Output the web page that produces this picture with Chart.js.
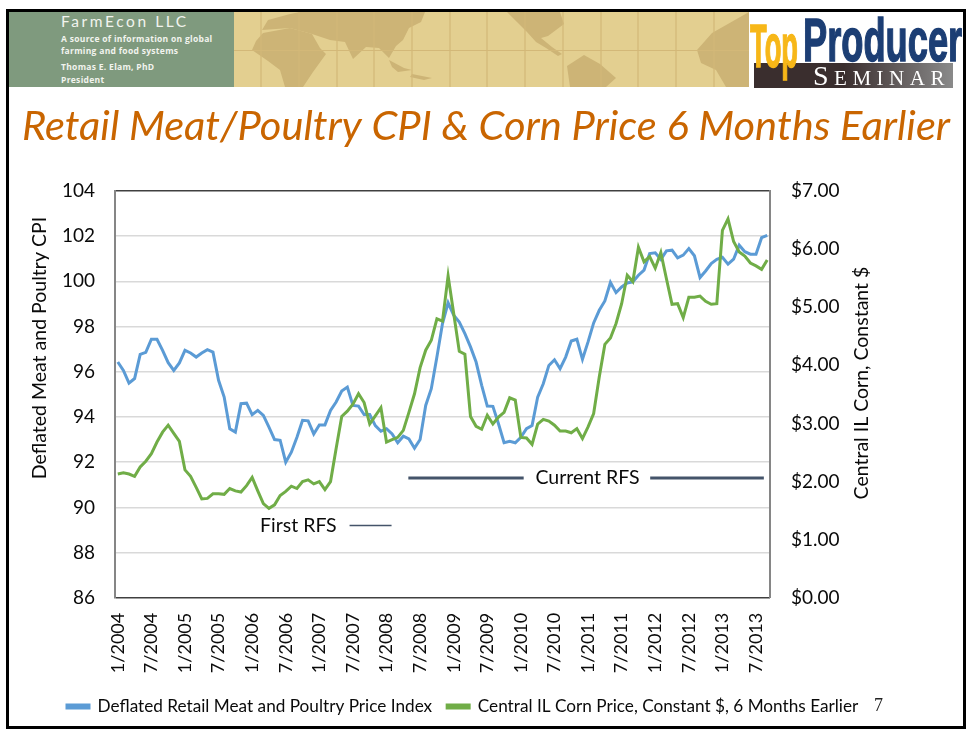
<!DOCTYPE html>
<html>
<head>
<meta charset="utf-8">
<title>Retail Meat/Poultry CPI & Corn Price</title>
<script src="https://cdn.jsdelivr.net/npm/chart.js@4"></script>
<style>
  html, body { margin: 0; padding: 0; background: #fff; }
  #page { position: relative; width: 968px; height: 734px; overflow: hidden; }
  #chart { position: absolute; left: 0; top: 0; }
  #frame { position: absolute; left: 6px; top: 9px; width: 954px; height: 714px; border: 3px solid #000; pointer-events: none; }
  #banner { position: absolute; left: 9px; top: 12px; width: 954px; height: 78px; overflow: hidden; }
  #firm { position: absolute; left: 0; top: 0; width: 225px; height: 75px; background: #7F9A7E; color: #F2F4EE; }
  #firm div { position: absolute; left: 52px; white-space: nowrap; font: bold 8.5px "Open Sans", sans-serif; letter-spacing: .3px; }
  #firm .name { top: 0; font: 15.5px Lato, sans-serif; letter-spacing: 2.6px; }
  #map { position: absolute; left: 225px; top: 0; }
  #logo { position: absolute; left: 740px; top: 0; width: 215px; height: 78px; background: #fff; }
  #logo span { position: absolute; z-index: 2; font-family: "Liberation Sans", sans-serif; font-weight: bold; transform-origin: 0 0; white-space: nowrap; -webkit-text-stroke: 1.5px currentColor; }
  #bar { position: absolute; left: 5px; top: 51px; width: 199px; height: 25px; background: linear-gradient(90deg, #3A2E2E 0%, #3A2E2E 45%, #8A8A8A 100%); }
  #bar b { position: absolute; left: 59px; top: 0; font: 21px "Liberation Serif", serif; color: #fff; letter-spacing: 5.5px; line-height: 25px; white-space: nowrap; }
  #bar b i { font-style: normal; font-size: 28px; }
  #pageno { position: absolute; left: 874px; top: 695px; font: 18px "Liberation Serif", serif; color: #222; }
</style>
</head>
<body>
<div id="page">
  <canvas id="chart" width="968" height="734"></canvas>
  <div id="banner">
    <div id="firm">
      <div class="name">FarmEcon LLC</div>
      <div style="top:21px">A source of information on global</div>
      <div style="top:33px">farming and food systems</div>
      <div style="top:49px">Thomas E. Elam, PhD</div>
      <div style="top:62px">President</div>
    </div>
    <svg id="map" width="515" height="75" viewBox="234 12 515 75">
      <rect x="234" y="12" width="515" height="75" fill="#E3CF90"/>
      <g fill="#CDB476">
        <path d="M252 50 256 41 263 33 290 28 312 34 320 48 326 54 313 72 303 87 285 87 280 70 268 61Z"/>
        <path d="M262 30 268 20 290 14 300 12 425 12 421 22 409 28 403 40 396 46 389 58 379 48 366 47 353 59 345 42 330 40 312 34 290 28Z"/>
        <path d="M389 60 404 68 412 70 398 72 392 67Z"/>
        <path d="M412 74 432 78 424 80 410 77Z"/>
        <path d="M507 12 560 12 564 24 548 36 541 38 552 47 562 54 558 56 546 48 536 42 527 32 517 22Z"/>
        <path d="M567 66 584 55 600 64 616 78 606 87 570 87Z"/>
        <path d="M697 50 712 33 749 12 749 87 726 87 716 70 701 63Z"/>
      </g>
      <g stroke="#D3B878" stroke-width="1.2">
        <path d="M261 12V87M299 12V87M337 12V87M374 12V87M412 12V87M450 12V87M487 12V87M525 12V87M563 12V87M601 12V87M638 12V87M676 12V87M714 12V87M234 50.5H749"/>
      </g>
    </svg>
    <div id="logo">
      <span style="left:1px;top:-2px;font-size:62px;color:#F7B718;transform:scaleX(.44)">Top</span>
      <span style="left:54px;top:-8px;font-size:62px;color:#1C3E74;transform:scaleX(.585)">Producer</span>
      <div id="bar"><b><i>S</i>EMINAR</b></div>
    </div>
  </div>
  <div id="frame"></div>
  <div id="pageno">7</div>
</div>
<script>
'use strict';

const months = [
  '1/2004','2/2004','3/2004','4/2004','5/2004','6/2004','7/2004','8/2004','9/2004','10/2004','11/2004','12/2004',
  '1/2005','2/2005','3/2005','4/2005','5/2005','6/2005','7/2005','8/2005','9/2005','10/2005','11/2005','12/2005',
  '1/2006','2/2006','3/2006','4/2006','5/2006','6/2006','7/2006','8/2006','9/2006','10/2006','11/2006','12/2006',
  '1/2007','2/2007','3/2007','4/2007','5/2007','6/2007','7/2007','8/2007','9/2007','10/2007','11/2007','12/2007',
  '1/2008','2/2008','3/2008','4/2008','5/2008','6/2008','7/2008','8/2008','9/2008','10/2008','11/2008','12/2008',
  '1/2009','2/2009','3/2009','4/2009','5/2009','6/2009','7/2009','8/2009','9/2009','10/2009','11/2009','12/2009',
  '1/2010','2/2010','3/2010','4/2010','5/2010','6/2010','7/2010','8/2010','9/2010','10/2010','11/2010','12/2010',
  '1/2011','2/2011','3/2011','4/2011','5/2011','6/2011','7/2011','8/2011','9/2011','10/2011','11/2011','12/2011',
  '1/2012','2/2012','3/2012','4/2012','5/2012','6/2012','7/2012','8/2012','9/2012','10/2012','11/2012','12/2012',
  '1/2013','2/2013','3/2013','4/2013','5/2013','6/2013','7/2013','8/2013','9/2013'
];

const meatIndex = [
  96.43,96.06,95.50,95.70,96.77,96.86,97.44,97.44,96.95,96.40,96.06,96.39,
  96.95,96.83,96.65,96.83,96.98,96.87,95.62,94.88,93.48,93.33,94.59,94.61,
  94.10,94.29,94.07,93.55,93.00,92.97,92.00,92.44,93.10,93.85,93.83,93.25,
  93.65,93.65,94.29,94.66,95.15,95.32,94.51,94.48,94.11,94.11,93.62,93.37,
  93.48,93.25,92.86,93.15,93.03,92.62,93.00,94.51,95.25,96.65,98.13,99.05,
  98.50,98.20,97.69,97.10,96.43,95.40,94.48,94.47,93.70,92.86,92.92,92.86,
  93.10,93.48,93.62,94.88,95.47,96.28,96.53,96.14,96.65,97.36,97.44,96.55,
  97.32,98.16,98.72,99.13,99.95,99.50,99.75,99.93,99.98,100.27,100.50,101.23,
  101.26,100.97,101.35,101.38,101.04,101.16,101.45,101.13,100.17,100.46,100.79,100.97,
  101.06,100.76,100.98,101.60,101.31,101.20,101.20,101.93,102.03
];

const cornPrice = [
  2.13,2.15,2.13,2.09,2.25,2.35,2.48,2.68,2.85,2.97,2.83,2.69,
  2.20,2.09,1.90,1.70,1.71,1.79,1.79,1.78,1.88,1.84,1.82,1.93,
  2.07,1.84,1.62,1.54,1.60,1.76,1.83,1.92,1.88,2.00,2.03,1.96,
  2.00,1.86,2.00,2.57,3.12,3.21,3.33,3.51,3.36,2.99,3.13,3.27,
  2.68,2.72,2.76,2.88,3.19,3.51,3.96,4.26,4.43,4.80,4.76,5.54,
  4.89,4.24,4.19,3.12,2.95,2.90,3.14,2.99,3.11,3.19,3.44,3.40,
  2.76,2.75,2.64,2.99,3.07,3.04,2.97,2.87,2.87,2.84,2.91,2.74,
  2.94,3.17,3.80,4.36,4.47,4.72,5.06,5.55,5.44,6.03,5.78,5.87,
  5.67,5.94,5.49,5.05,5.06,4.82,5.17,5.17,5.19,5.10,5.05,5.06,
  6.32,6.52,6.13,5.95,5.88,5.76,5.71,5.65,5.81
];

const seriesNames = ['Deflated Retail Meat and Poultry Price Index', 'Central IL Corn Price, Constant $, 6 Months Earlier'];
const slideTitle = 'Retail Meat/Poultry CPI & Corn Price 6 Months Earlier';
const leftTitle = 'Deflated Meat and Poultry CPI';
const rightTitle = 'Central IL Corn, Constant $';

// RFS markers, in axis units: month index and CPI level
const firstRfs = { from: 41.4, to: 48.9, level: 89.2, textAt: 39.1, label: 'First RFS' };
const currentRfs = { from: 51.9, to: 72.5, from2: 95.1, to2: 115.4, level: 91.3, textAt: 83.9, label: 'Current RFS' };

const textFont = 'Lato, sans-serif';

// draws the axis titles and the RFS notes over the plot
const slideNotes = {
  id: 'slideNotes',
  afterLayout(chart) {
    // the title needs nearly the full width, the legend starts further in
    chart.legend.left = 52;
  },
  afterDraw(chart) {
    const { ctx, scales } = chart;
    const xAt = (i) => scales.x.getPixelForValue(i);
    ctx.save();
    ctx.fillStyle = '#0a0a0a';
    ctx.textBaseline = 'middle';
    ctx.textAlign = 'center';
    ctx.font = '19.5px ' + textFont;
    [[leftTitle, 40, 348], [rightTitle, 862, 383]].forEach(([text, x, y]) => {
      ctx.save();
      ctx.translate(x, y);
      ctx.rotate(-Math.PI / 2);
      ctx.fillText(text, 0, 0);
      ctx.restore();
    });
    ctx.fillText(currentRfs.label, xAt(currentRfs.textAt), scales.y.getPixelForValue(currentRfs.level));
    ctx.textAlign = 'right';
    ctx.fillText(firstRfs.label, xAt(firstRfs.textAt), scales.y.getPixelForValue(firstRfs.level));
    ctx.strokeStyle = '#44546A';
    ctx.lineWidth = 3;
    const currentY = scales.y.getPixelForValue(currentRfs.level);
    ctx.beginPath();
    ctx.moveTo(xAt(currentRfs.from), currentY);
    ctx.lineTo(xAt(currentRfs.to), currentY);
    ctx.moveTo(xAt(currentRfs.from2), currentY);
    ctx.lineTo(xAt(currentRfs.to2), currentY);
    ctx.stroke();
    const firstY = scales.y.getPixelForValue(firstRfs.level);
    ctx.lineWidth = 1.5;
    ctx.beginPath();
    ctx.moveTo(xAt(firstRfs.from), firstY);
    ctx.lineTo(xAt(firstRfs.to), firstY);
    ctx.stroke();
    ctx.restore();
  },
};

new Chart(document.getElementById('chart'), {
  type: 'line',
  data: {
    labels: months,
    datasets: [
      {
        label: seriesNames[0],
        data: meatIndex,
        yAxisID: 'y',
        order: 2,
        borderColor: '#5B9BD5',
        backgroundColor: '#5B9BD5',
        borderWidth: 3,
        pointRadius: 0,
        tension: 0,
      },
      {
        label: seriesNames[1],
        data: cornPrice,
        yAxisID: 'y1',
        order: 1,
        borderColor: '#70AD47',
        backgroundColor: '#70AD47',
        borderWidth: 3,
        pointRadius: 0,
        tension: 0,
      },
    ],
  },
  options: {
    responsive: false,
    animation: false,
    layout: { padding: { left: 22, right: 18, top: 0, bottom: 9 } },
    plugins: {
      title: {
        display: true,
        text: slideTitle,
        color: '#C96500',
        font: { family: textFont, size: 41.6, style: 'italic', weight: 'normal' },
        padding: { top: 102, bottom: 39 },
      },
      legend: {
        position: 'bottom',
        align: 'start',
        labels: {
          boxWidth: 22,
          boxHeight: 3,
          padding: 15,
          color: '#0a0a0a',
          font: { family: textFont, size: 17.2 },
          sort: (a, b) => a.datasetIndex - b.datasetIndex,
        },
      },
      tooltip: { enabled: false },
    },
    scales: {
      x: {
        offset: true,
        grid: { display: false },
        border: { color: '#404040', width: 1 },
        afterFit(scale) { scale.height = 85; },
        ticks: {
          autoSkip: false,
          maxRotation: 90,
          minRotation: 90,
          padding: 7,
          color: '#0a0a0a',
          font: { family: textFont, size: 18 },
          callback(value, index) {
            return index % 6 === 0 ? months[index] : '';
          },
        },
      },
      y: {
        position: 'left',
        min: 86,
        max: 104,
        border: { color: '#868686', width: 2 },
        grid: {
          drawTicks: false,
          lineWidth: 1.5,
          color: (c) => (c.tick.value === 104 ? '#404040' : c.tick.value === 86 ? '#404040' : '#D9D9D9'),
        },
        afterFit(scale) { scale.width = 93; },
        ticks: { stepSize: 2, padding: 20, color: '#0a0a0a', font: { family: textFont, size: 19 } },
      },
      y1: {
        position: 'right',
        min: 0,
        max: 7,
        border: { color: '#868686', width: 2 },
        grid: { display: false, drawOnChartArea: false },
        afterFit(scale) { scale.width = 180; },
        ticks: {
          stepSize: 1,
          padding: 13,
          color: '#0a0a0a',
          font: { family: textFont, size: 19 },
          callback(value) {
            return '$' + value.toFixed(2);
          },
        },
      },
    },
  },
  plugins: [slideNotes],
});
</script>
</body>
</html>
